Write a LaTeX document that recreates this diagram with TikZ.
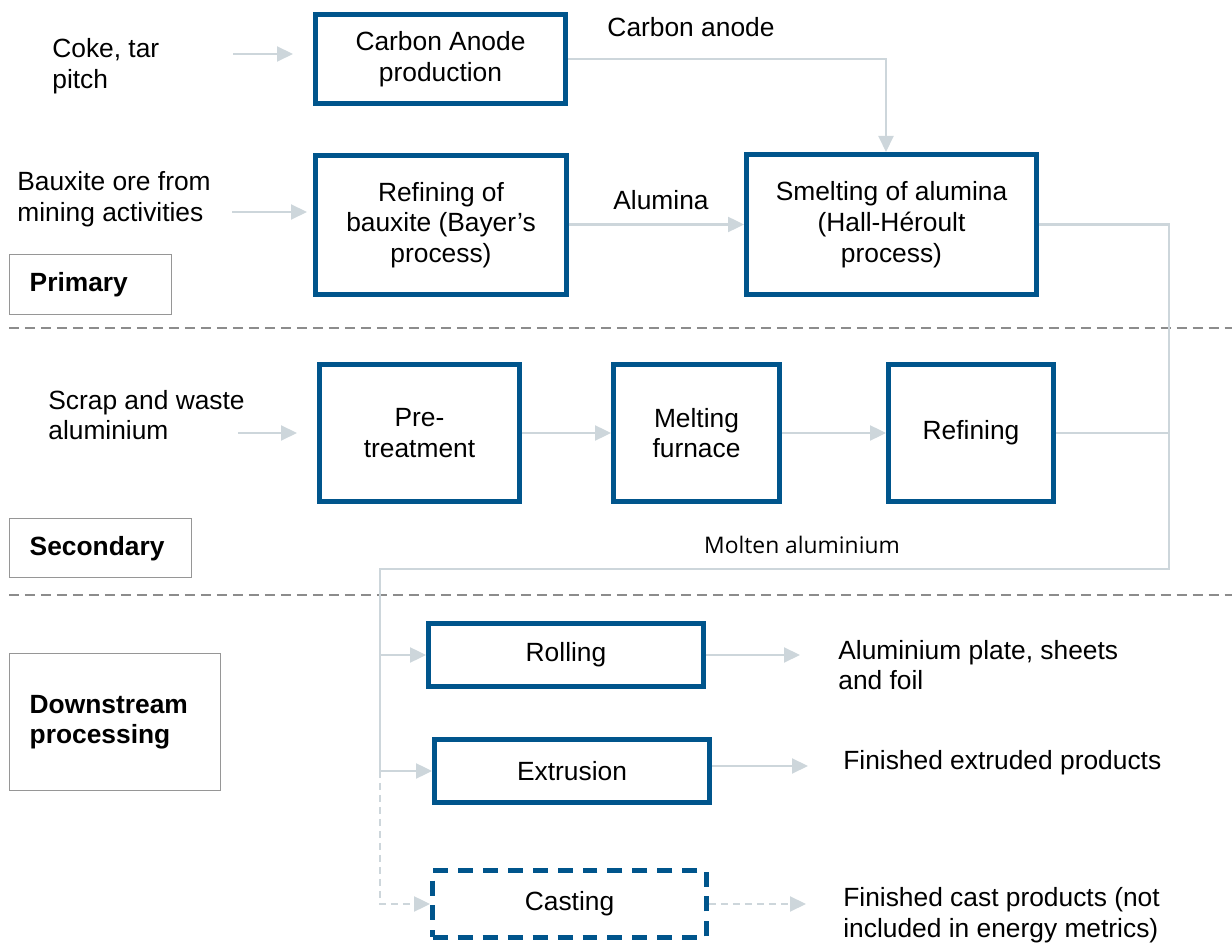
\documentclass[tikz,border=0pt]{standalone}
\usepackage{fontspec}
\setmainfont{Liberation Sans}
\newfontfamily\notefont{Open Sans}
\usepackage{xcolor}
\usetikzlibrary{arrows.meta}
\definecolor{procblue}{RGB}{0,85,140}
\definecolor{flowgrey}{RGB}{205,214,219}
\definecolor{sepgrey}{RGB}{140,140,140}
\definecolor{tagframe}{RGB}{150,150,150}
\tikzset{
	proc/.style={draw=procblue, line width=2.8pt, align=center, inner sep=0pt,
		font=\fontsize{15}{17.5}\selectfont},
	tag/.style={draw=tagframe, line width=0.8pt, align=left, anchor=north west,
		inner xsep=0.4cm, font=\fontsize{15}{17.5}\selectfont\bfseries},
	txt/.style={align=left, anchor=west, inner sep=0pt, font=\fontsize{15}{17.5}\selectfont},
	flow/.style={color=flowgrey, line width=1.2pt, -{Triangle[length=0.32cm,width=0.3cm]}},
	link/.style={color=flowgrey, line width=1.2pt},
	sep/.style={draw=sepgrey, line width=1.1pt, dash pattern=on 0.2cm off 0.12cm}
}
\begin{document}
\begin{tikzpicture}[x=0.02cm,y=-0.02cm]
	\useasboundingbox (0,0) rectangle (1232,945);
	% process boxes
	\node[proc, minimum width=5cm, minimum height=1.78cm] (anode) at (440.5,59) {Carbon Anode\\production};
	\node[proc, minimum width=5.02cm, minimum height=2.78cm] (refbaux) at (441,225) {Refining of\\bauxite (Bayer’s\\process)};
	\node[proc, minimum width=5.8cm, minimum height=2.8cm] (smelt) at (891.5,224.5) {Smelting of alumina\\(Hall-Héroult\\process)};
	\node[proc, minimum width=4cm, minimum height=2.74cm] (pretreat) at (419.5,433) {Pre-\\treatment};
	\node[proc, minimum width=3.32cm, minimum height=2.74cm] (melt) at (696.5,433) {Melting\\furnace};
	\node[proc, minimum width=3.3cm, minimum height=2.74cm] (refine) at (971,433) {Refining};
	\node[proc, minimum width=5.5cm, minimum height=1.26cm] (rolling) at (566,655) {Rolling};
	\node[proc, minimum width=5.5cm, minimum height=1.26cm] (extrusion) at (572,771) {Extrusion};
	\node[proc, minimum width=5.48cm, minimum height=1.34cm, dash pattern=on 0.3cm off 0.2cm] (casting) at (569.5,904) {Casting};
	% stage tags
	\node[tag, minimum width=3.24cm, minimum height=1.2cm, text width=2.44cm] (primary) at (9,254) {Primary};
	\node[tag, minimum width=3.64cm, minimum height=1.18cm, text width=2.84cm] (secondary) at (9,518) {Secondary};
	\node[tag, minimum width=4.22cm, minimum height=2.74cm, text width=3.42cm] (downstream) at (9,653) {Downstream\\processing};
	\draw[sep] (9,328) -- (1232,328);
	\draw[sep] (9,595) -- (1232,595);
	% inputs and outputs
	\node[txt] (coke) at (52,66) {Coke, tar\\pitch};
	\node[txt] (bauxite) at (17,199) {Bauxite ore from\\mining activities};
	\node[txt] (scrap) at (48,415) {Scrap and waste\\aluminium};
	\node[txt] (plate) at (838,665) {Aluminium plate, sheets\\and foil};
	\node[txt] (extruded) at (843,763) {Finished extruded products};
	\node[txt] (cast) at (843,915) {Finished cast products (not\\included in energy metrics)};
	\node[txt, anchor=center] (anodelbl) at (691,27) {Carbon anode};
	\node[txt, anchor=center] (aluminalbl) at (661,200) {Alumina};
	\node[inner sep=0pt, font=\notefont\fontsize{13}{15}\selectfont] (moltenlbl) at (802,545) {Molten aluminium};
	\coordinate (cokeout) at (233,54);
	\coordinate (cokein) at (293,54);
	\coordinate (bauxout) at (232,212);
	\coordinate (bauxin) at (307,212);
	\coordinate (scrapout) at (238,433);
	\coordinate (scrapin) at (297,433);
	\coordinate (rollout) at (800,655);
	\coordinate (extout) at (808,766);
	\coordinate (castout) at (806,904);
	\coordinate (bus) at (1169,569);
	\coordinate (drop) at (380,569);
	\coordinate (anodein) at (886,152);
	% connectors
	\draw[flow] (cokeout) -- (cokein);
	\draw[flow] (bauxout) -- (bauxin);
	\draw[flow] (scrapout) -- (scrapin);
	\draw[flow] (refbaux.east |- smelt.west) -- (smelt.west);
	\draw[flow] (pretreat) -- (melt);
	\draw[flow] (melt) -- (refine);
	\draw[flow] (rolling.east) -- (rollout);
	\draw[flow] (extrusion.east |- extout) -- (extout);
	\draw[flow] (anode.east) -| (anodein);
	\draw[link] (smelt.east) -| (bus) -- (drop) -- (drop |- extrusion.west);
	\draw[link] (refine.east) -- (refine.east -| bus);
	\draw[flow] (drop |- rolling.west) -- (rolling.west);
	\draw[flow] (drop |- extrusion.west) -- (extrusion.west);
	\draw[flow, dash pattern=on 0.14cm off 0.1cm] (drop |- extrusion.west) |- (casting.west);
	\draw[flow, dash pattern=on 0.14cm off 0.1cm] (casting.east) -- (castout);
\end{tikzpicture}
\end{document}
